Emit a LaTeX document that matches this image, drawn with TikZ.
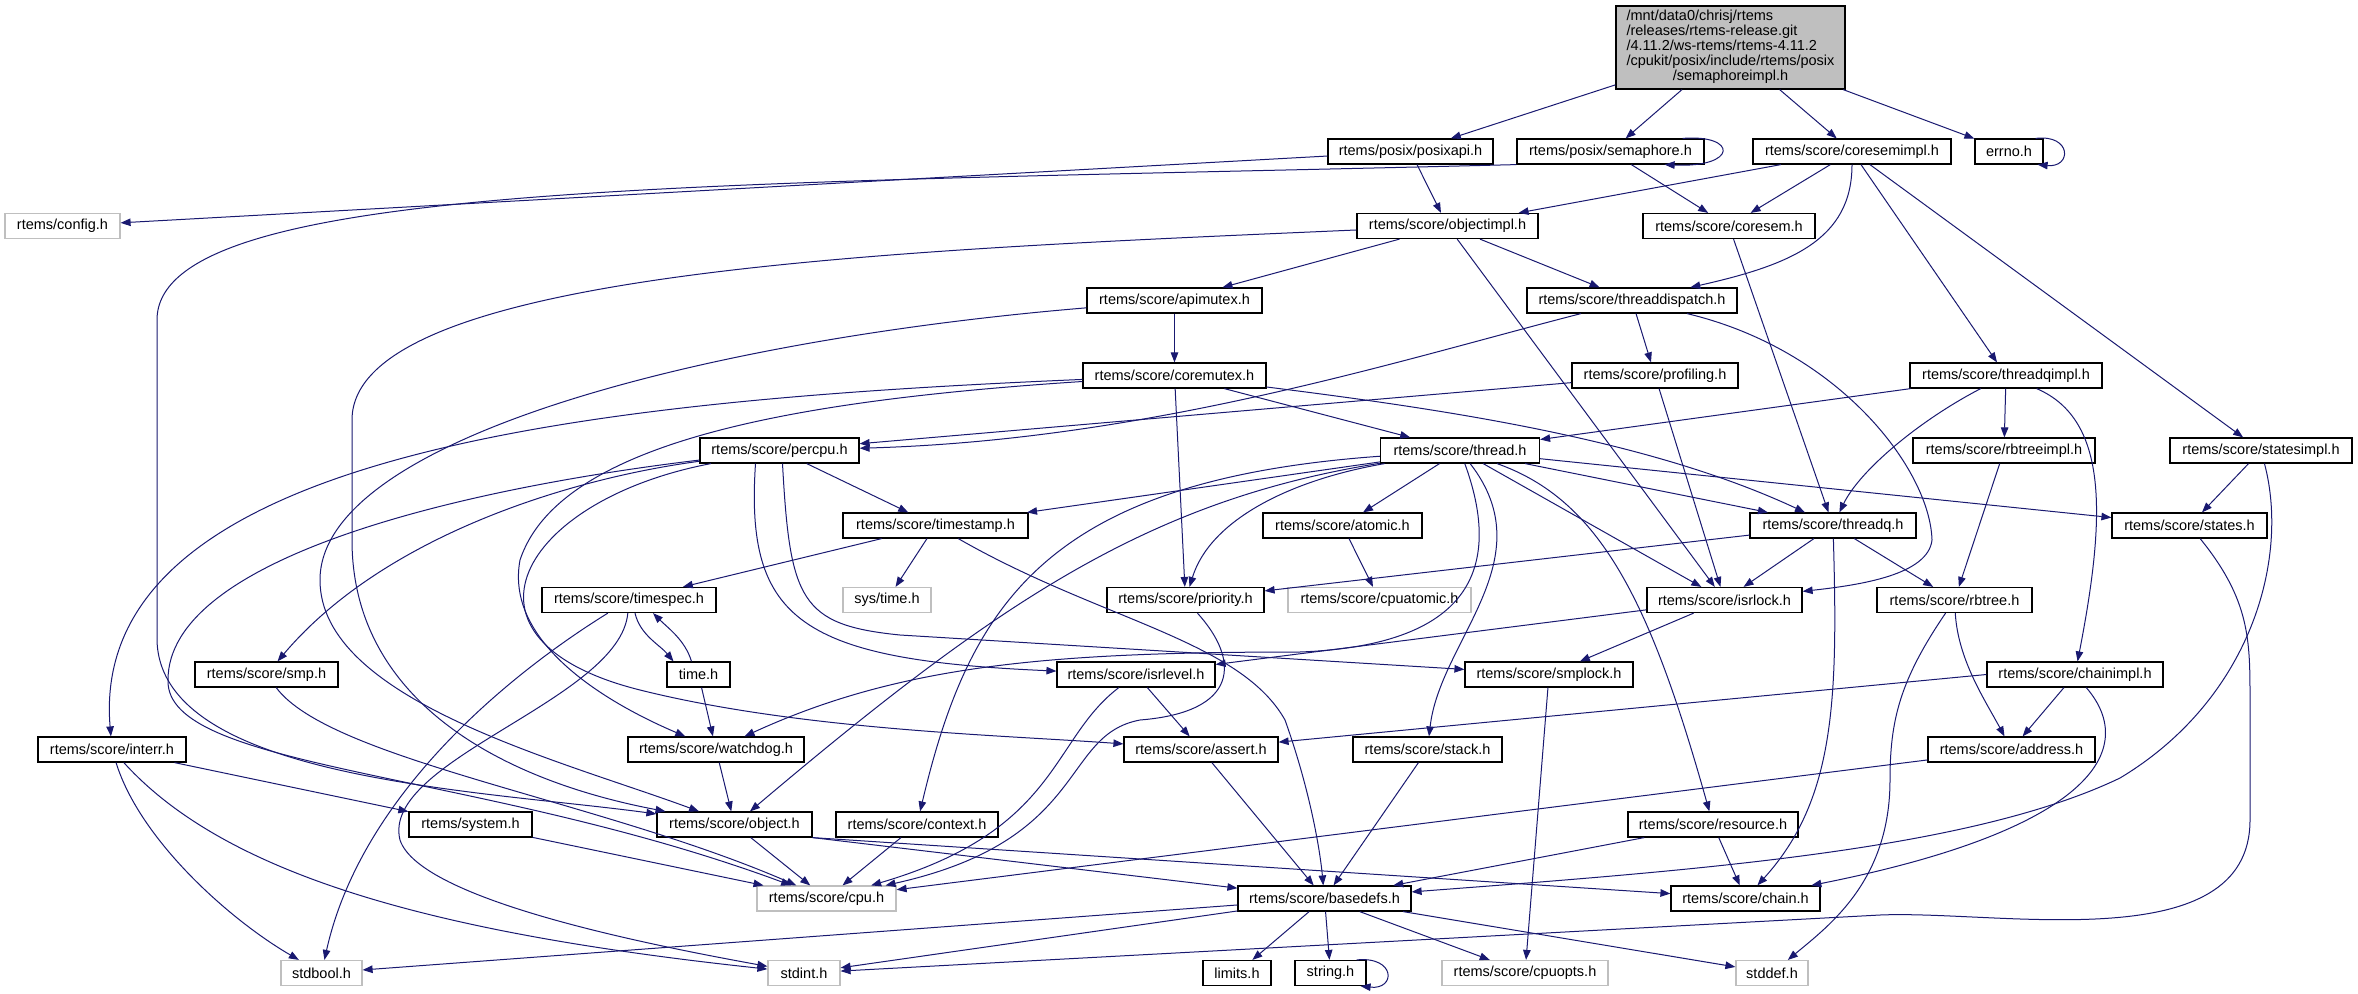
\documentclass[tikz,border=0pt]{standalone}
\usepackage{fontspec}
\setmainfont{Liberation Sans}
\usetikzlibrary{arrows.meta}
\definecolor{edgeblue}{HTML}{191970}
\definecolor{boxgray}{HTML}{BFBFBF}
\tikzstyle{file}=[draw=black, line width=1.2pt, fill=white, inner sep=0pt, minimum height=25pt, font=\fontsize{14.5}{15}\selectfont]
\tikzstyle{sysfile}=[file, draw=boxgray]
\tikzstyle{rootfile}=[file, fill=boxgray, minimum height=83pt, minimum width=229pt]
\tikzstyle{inc}=[draw=edgeblue, line width=1pt, -{Triangle[length=10pt,width=7.5pt]}]

\begin{document}
\begin{tikzpicture}[x=1pt, y=-1pt]
	\useasboundingbox (0,0) rectangle (2358,993);
	\node[rootfile] (root) at (1730.5, 47.5) {\begin{tabular}{@{}l@{}}/mnt/data0/chrisj/rtems\\/releases/rtems-release.git\\/4.11.2/ws-rtems/rtems-4.11.2\\/cpukit/posix/include/rtems/posix\\\multicolumn{1}{@{}c@{}}{/semaphoreimpl.h}\end{tabular}};
	\node[file, minimum width=165pt] (posixapi) at (1410.5, 151.5) {rtems/posix/posixapi.h};
	\node[file, minimum width=187pt] (semaphore) at (1610.5, 151.5) {rtems/posix/semaphore.h};
	\node[file, minimum width=198pt] (coresemimpl) at (1852, 151.5) {rtems/score/coresemimpl.h};
	\node[file, minimum width=68pt] (errno) at (2009, 151.5) {errno.h};
	\node[sysfile, minimum width=115pt] (config) at (62.5, 226) {rtems/config.h};
	\node[file, minimum width=181pt] (objectimpl) at (1447.5, 226) {rtems/score/objectimpl.h};
	\node[file, minimum width=172pt] (coresem) at (1729, 226) {rtems/score/coresem.h};
	\node[file, minimum width=175pt] (apimutex) at (1174.5, 300.5) {rtems/score/apimutex.h};
	\node[file, minimum width=210pt] (threaddispatch) at (1632, 300.5) {rtems/score/threaddispatch.h};
	\node[file, minimum width=183pt] (coremutex) at (1174.5, 375.5) {rtems/score/coremutex.h};
	\node[file, minimum width=166pt] (profiling) at (1655, 375.5) {rtems/score/profiling.h};
	\node[file, minimum width=192pt] (threadqimpl) at (2006, 375.5) {rtems/score/threadqimpl.h};
	\node[file, minimum width=159pt] (percpu) at (779.5, 450.5) {rtems/score/percpu.h};
	\node[file, minimum width=159pt] (thread) at (1460, 450.5) {rtems/score/thread.h};
	\node[file, minimum width=182pt] (rbtreeimpl) at (2004, 450.5) {rtems/score/rbtreeimpl.h};
	\node[file, minimum width=182pt] (statesimpl) at (2261, 450.5) {rtems/score/statesimpl.h};
	\node[file, minimum width=185pt] (timestamp) at (935.5, 525.5) {rtems/score/timestamp.h};
	\node[file, minimum width=159pt] (atomic) at (1342.5, 525.5) {rtems/score/atomic.h};
	\node[file, minimum width=166pt] (threadq) at (1833, 525.5) {rtems/score/threadq.h};
	\node[file, minimum width=155pt] (states) at (2189.5, 525.5) {rtems/score/states.h};
	\node[file, minimum width=174pt] (timespec) at (629, 600) {rtems/score/timespec.h};
	\node[sysfile, minimum width=88pt] (systime) at (887, 600) {sys/time.h};
	\node[file, minimum width=157pt] (priority) at (1185.5, 600) {rtems/score/priority.h};
	\node[sysfile, minimum width=183pt] (cpuatomic) at (1379.5, 600) {rtems/score/cpuatomic.h};
	\node[file, minimum width=155pt] (isrlock) at (1724.5, 600) {rtems/score/isrlock.h};
	\node[file, minimum width=155pt] (rbtree) at (1954.5, 600) {rtems/score/rbtree.h};
	\node[file, minimum width=143pt] (smp) at (266.5, 674.5) {rtems/score/smp.h};
	\node[file, minimum width=63pt] (time) at (698.5, 674.5) {time.h};
	\node[file, minimum width=158pt] (isrlevel) at (1136, 674.5) {rtems/score/isrlevel.h};
	\node[file, minimum width=168pt] (smplock) at (1549, 674.5) {rtems/score/smplock.h};
	\node[file, minimum width=176pt] (chainimpl) at (2075, 674.5) {rtems/score/chainimpl.h};
	\node[file, minimum width=148pt] (interr) at (112, 749.5) {rtems/score/interr.h};
	\node[file, minimum width=176pt] (watchdog) at (716, 749.5) {rtems/score/watchdog.h};
	\node[file, minimum width=154pt] (assert) at (1201, 749.5) {rtems/score/assert.h};
	\node[file, minimum width=149pt] (stack) at (1427.5, 749.5) {rtems/score/stack.h};
	\node[file, minimum width=167pt] (address) at (2011.5, 749.5) {rtems/score/address.h};
	\node[file, minimum width=123pt] (system) at (470.5, 824.5) {rtems/system.h};
	\node[file, minimum width=155pt] (object) at (734.5, 824.5) {rtems/score/object.h};
	\node[file, minimum width=162pt] (context) at (917, 824.5) {rtems/score/context.h};
	\node[file, minimum width=170pt] (resource) at (1713, 824.5) {rtems/score/resource.h};
	\node[sysfile, minimum width=139pt] (cpu) at (826.5, 898.5) {rtems/score/cpu.h};
	\node[file, minimum width=173pt] (basedefs) at (1324.5, 898.5) {rtems/score/basedefs.h};
	\node[file, minimum width=149pt] (chain) at (1745.5, 898.5) {rtems/score/chain.h};
	\node[sysfile, minimum width=81pt] (stdbool) at (321.5, 973) {stdbool.h};
	\node[sysfile, minimum width=72pt] (stdint) at (804, 973) {stdint.h};
	\node[file, minimum width=68pt] (limits) at (1237, 973) {limits.h};
	\node[file, minimum width=71pt] (string) at (1330.5, 973) {string.h};
	\node[sysfile, minimum width=166pt] (cpuopts) at (1525, 973) {rtems/score/cpuopts.h};
	\node[sysfile, minimum width=72pt] (stddef) at (1772, 973) {stddef.h};

	\draw[inc] (root) -- (posixapi);
	\draw[inc] (root) -- (semaphore);
	\draw[inc] (root) -- (coresemimpl);
	\draw[inc] (root) -- (errno);
	\draw[inc] ([xshift=-8pt]errno.north east) .. controls (2072,134) and (2072,168) .. ([xshift=-6pt]errno.south east);
	\draw[inc] (posixapi) -- (config);
	\draw[inc] (posixapi) -- (objectimpl);
	\draw[inc] ([xshift=-22pt]semaphore.north east) .. controls (1738,134) and (1738,168) .. ([xshift=-40pt]semaphore.south east);
	\draw[inc] (semaphore) -- (coresem);
	\draw[inc] (semaphore.south west) .. controls (700,185) and (157,180) .. (157,320) -- (157,640) .. controls (160,780) and (480,790) .. (object);
	\draw[inc] (coresemimpl) -- (objectimpl);
	\draw[inc] (coresemimpl) -- (coresem);
	\draw[inc] (coresemimpl) .. controls (1852,240) and (1790,265) .. (threaddispatch);
	\draw[inc] (coresemimpl) -- (threadqimpl);
	\draw[inc] (coresemimpl) -- (statesimpl);
	\draw[inc] (objectimpl) -- (apimutex);
	\draw[inc] (objectimpl) -- (threaddispatch);
	\draw[inc] (objectimpl) -- (isrlock);
	\draw[inc] (objectimpl) .. controls (900,250) and (352,270) .. (352,420) -- (352,540) .. controls (352,700) and (500,780) .. (object);
	\draw[inc] (coresem) -- (threadq);
	\draw[inc] (apimutex) -- (coremutex);
	\draw[inc] (apimutex) .. controls (700,340) and (320,440) .. (320,580) .. controls (320,700) and (560,760) .. (object);
	\draw[inc] (threaddispatch) .. controls (1400,360) and (1150,440) .. (percpu);
	\draw[inc] (threaddispatch) -- (profiling);
	\draw[inc] (threaddispatch) .. controls (1840,350) and (1930,470) .. (1932,540) .. controls (1928,575) and (1860,585) .. (isrlock);
	\draw[inc] (coremutex) -- (thread);
	\draw[inc] (coremutex) .. controls (1450,410) and (1650,440) .. (threadq);
	\draw[inc] (coremutex) -- (priority);
	\draw[inc] (coremutex) .. controls (600,400) and (87,450) .. (interr);
	\draw[inc] (coremutex) .. controls (800,400) and (560,440) .. (520,560) .. controls (505,640) and (600,700) .. (watchdog);
	\draw[inc] (profiling) -- (percpu);
	\draw[inc] (profiling) -- (isrlock);
	\draw[inc] (threadqimpl) -- (thread);
	\draw[inc] (threadqimpl) .. controls (1920,420) and (1860,470) .. (threadq);
	\draw[inc] (threadqimpl) -- (rbtreeimpl);
	\draw[inc] (threadqimpl) .. controls (2110,420) and (2105,520) .. (chainimpl);
	\draw[inc] (percpu) -- (timestamp);
	\draw[inc] (percpu) .. controls (560,480) and (380,540) .. (smp);
	\draw[inc] (percpu) .. controls (450,490) and (168,560) .. (168,680) .. controls (165,770) and (480,770) .. (cpu);
	\draw[inc] (percpu) .. controls (520,500) and (440,640) .. (640,690) .. controls (800,730) and (1000,735) .. (assert);
	\draw[inc] ([xshift=-24pt]percpu.south) .. controls (745,620) and (800,660) .. (isrlevel);
	\draw[inc] ([xshift=3pt]percpu.south) .. controls (790,600) and (800,625) .. (900,635) -- (smplock);
	\draw[inc] (timestamp) -- (timespec);
	\draw[inc] (timestamp) -- (systime);
	\draw[inc] (timestamp) .. controls (1100,620) and (1240,640) .. (1285,720) .. controls (1310,790) and (1320,850) .. (basedefs);
	\draw[inc] (thread) -- (timestamp);
	\draw[inc] (thread) -- (atomic);
	\draw[inc] (thread) .. controls (1290,480) and (1210,520) .. (priority);
	\draw[inc] (thread) -- (isrlock);
	\draw[inc] (thread) -- (threadq);
	\draw[inc] (thread) -- (states);
	\draw[inc] (thread) .. controls (1150,500) and (1000,600) .. (object);
	\draw[inc] (thread) .. controls (1050,480) and (970,600) .. (context);
	\draw[inc] (thread) .. controls (1500,560) and (1480,645) .. (1300,652) .. controls (1050,652) and (900,665) .. (watchdog);
	\draw[inc] (thread) .. controls (1545,560) and (1440,640) .. (stack);
	\draw[inc] (thread) .. controls (1600,500) and (1650,600) .. (resource);
	\draw[inc] (atomic) -- (cpuatomic);
	\draw[inc] (threadq) -- (priority);
	\draw[inc] (threadq) -- (isrlock);
	\draw[inc] (threadq) -- (rbtree);
	\draw[inc] (threadq) .. controls (1838,700) and (1835,800) .. (chain);
	\draw[inc] (states) .. controls (2250,600) and (2250,640) .. (2250,700) -- (2250,820) .. controls (2250,960) and (2000,910) .. (1880,915) -- (stdint);
	\draw[inc] (statesimpl) -- (states);
	\draw[inc] (statesimpl) .. controls (2290,560) and (2250,700) .. (2120,778) .. controls (1970,850) and (1700,870) .. (basedefs);
	\draw[inc] (rbtreeimpl) -- (rbtree);
	\draw[inc] (rbtree) .. controls (1958,660) and (1985,700) .. (address);
	\draw[inc] (rbtree) .. controls (1900,680) and (1890,720) .. (1890,780) .. controls (1890,880) and (1830,925) .. (stddef);
	\draw[inc] (chainimpl) -- (address);
	\draw[inc] (chainimpl) .. controls (2140,750) and (2090,830) .. (chain);
	\draw[inc] (chainimpl.west) -- (assert);
	\draw[inc] (address) -- (cpu);
	\draw[inc] (isrlock) -- (isrlevel);
	\draw[inc] (isrlock) -- (smplock);
	\draw[inc] (priority) .. controls (1240,660) and (1240,712) .. (1140,720) .. controls (1060,735) and (1090,840) .. (cpu);
	\draw[inc] (isrlevel) .. controls (1050,740) and (1060,830) .. (cpu);
	\draw[inc] (isrlevel) -- (assert);
	\draw[inc] (smplock) -- (cpuopts);
	\draw[inc] ([xshift=6pt]timespec.south) .. controls (640,635) and (660,645) .. ([xshift=-25pt]time.north);
	\draw[inc] ([xshift=-7pt]time.north) .. controls (685,640) and (668,628) .. ([xshift=24pt]timespec.south);
	\draw[inc] (time) -- (watchdog);
	\draw[inc] (timespec) .. controls (500,680) and (360,800) .. (stdbool);
	\draw[inc] (timespec) .. controls (620,700) and (380,760) .. (400,840) .. controls (420,900) and (650,945) .. (stdint);
	\draw[inc] (smp) .. controls (330,760) and (600,800) .. (cpu);
	\draw[inc] (interr) -- (system);
	\draw[inc] (interr) .. controls (140,840) and (230,920) .. (stdbool);
	\draw[inc] (interr) .. controls (230,880) and (450,935) .. (stdint);
	\draw[inc] (watchdog) -- (object);
	\draw[inc] (system) -- (cpu);
	\draw[inc] (object) -- (cpu);
	\draw[inc] (object.south east) -- (basedefs);
	\draw[inc] (object.south east) -- (chain);
	\draw[inc] (context) -- (cpu);
	\draw[inc] (assert) -- (basedefs);
	\draw[inc] (stack) -- (basedefs);
	\draw[inc] (resource) -- (basedefs);
	\draw[inc] (resource) -- (chain);
	\draw[inc] (basedefs) -- (stdbool);
	\draw[inc] (basedefs) -- (stdint);
	\draw[inc] (basedefs) -- (limits);
	\draw[inc] (basedefs) -- (string);
	\draw[inc] (basedefs) -- (cpuopts);
	\draw[inc] (basedefs) -- (stddef);
	\draw[inc] ([xshift=-10pt]string.north east) .. controls (1396,956) and (1396,990) .. ([xshift=-6pt]string.south east);
	\end{tikzpicture}
\end{document}
